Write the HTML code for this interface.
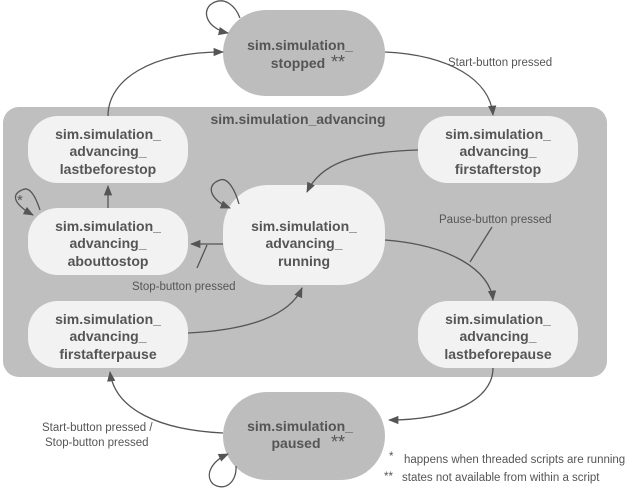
<!DOCTYPE html>
<html><head><style>
body{margin:0;background:#fff}
svg{display:block}
.t{font-family:"Liberation Sans",sans-serif;font-weight:bold;font-size:14px;fill:#555;text-anchor:middle}
.s{font-family:"Liberation Sans",sans-serif;font-size:11.5px;fill:#555}
.l{fill:none;stroke:#555;stroke-width:1.3}
</style></head><body>
<svg width="640" height="489" viewBox="0 0 640 489">
<defs><marker id="a" viewBox="0 0 10 10" refX="9" refY="5" markerWidth="8" markerHeight="8" orient="auto"><path d="M0,1 L10,5 L0,9z" fill="#555"/></marker></defs>
<rect x="3" y="107" width="604" height="270" rx="16" fill="#bfbfbf"/>
<text class="t" x="298" y="124">sim.simulation_advancing</text>
<rect x="223" y="10" width="162" height="86" rx="43" fill="#bdbdbd"/>
<text class="t" x="300" y="50">sim.simulation_</text>
<text class="t" x="298" y="68">stopped</text><text class="s" x="331" y="68" style="font-size:18px">**</text>
<rect x="223" y="392" width="162" height="88" rx="44" fill="#bdbdbd"/>
<text class="t" x="300" y="431">sim.simulation_</text>
<text class="t" x="296" y="448">paused</text><text class="s" x="331" y="448" style="font-size:18px">**</text>
<g fill="#f2f2f2">
<rect x="28" y="116" width="160" height="67" rx="30"/>
<rect x="418" y="116" width="160" height="67" rx="30"/>
<rect x="28" y="208" width="160" height="67" rx="30"/>
<rect x="223" y="185" width="162" height="100" rx="45"/>
<rect x="28" y="301" width="160" height="67" rx="30"/>
<rect x="418" y="301" width="160" height="67" rx="30"/>
</g>
<g class="t">
<text x="108" y="139">sim.simulation_</text><text x="108" y="156">advancing_</text><text x="108" y="174">lastbeforestop</text>
<text x="498" y="139">sim.simulation_</text><text x="498" y="156">advancing_</text><text x="498" y="174">firstafterstop</text>
<text x="108" y="231">sim.simulation_</text><text x="108" y="248">advancing_</text><text x="108" y="266">abouttostop</text>
<text x="304" y="231">sim.simulation_</text><text x="304" y="248">advancing_</text><text x="304" y="266">running</text>
<text x="108" y="324">sim.simulation_</text><text x="108" y="341">advancing_</text><text x="108" y="359">firstafterpause</text>
<text x="498" y="324">sim.simulation_</text><text x="498" y="341">advancing_</text><text x="498" y="359">lastbeforepause</text>
</g>
<g class="l" marker-end="url(#a)">
<path d="M108,116 C108,80 150,52 223,52"/>
<path d="M385,52 C450,55 490,80 493,115"/>
<path d="M418,150 C350,152 320,165 307,192"/>
<path d="M108,208 L108,186"/>
<path d="M223,244 L191,244"/>
<path d="M188,333 C250,330 290,315 302,288"/>
<path d="M385,240 C450,245 490,270 493,300"/>
<path d="M493,368 C493,400 450,420 389,420"/>
<path d="M223,433 C160,430 115,410 110,372"/>
<path d="M240,18 C235,5 225,-2 215,2 C200,8 205,28 228,33"/>
<path d="M40,210 C36,198 30,185 22,190 C10,195 15,205 33,215"/>
<path d="M239,204 C235,190 228,177 220,180 C205,185 210,200 230,208"/>
<path d="M236,466 C237,482 225,492 213,484 C205,476 210,462 228,454"/>
</g>
<text class="s" x="17" y="205" style="font-size:15px">*</text>
<path class="l" d="M197,268 L207,245"/>
<path class="l" d="M470,262 L492,227"/>
<text class="s" x="448" y="66">Start-button pressed</text>
<text class="s" x="439" y="223">Pause-button pressed</text>
<text class="s" x="132" y="290">Stop-button pressed</text>
<text class="s" x="42" y="431">Start-button pressed /</text>
<text class="s" x="45" y="446">Stop-button pressed</text>
<text class="s" x="389" y="460">*</text><text class="s" x="404" y="463">happens when threaded scripts are running</text>
<text class="s" x="384" y="480">**</text><text class="s" x="402" y="481">states not available from within a script</text>
</svg>
</body></html>
